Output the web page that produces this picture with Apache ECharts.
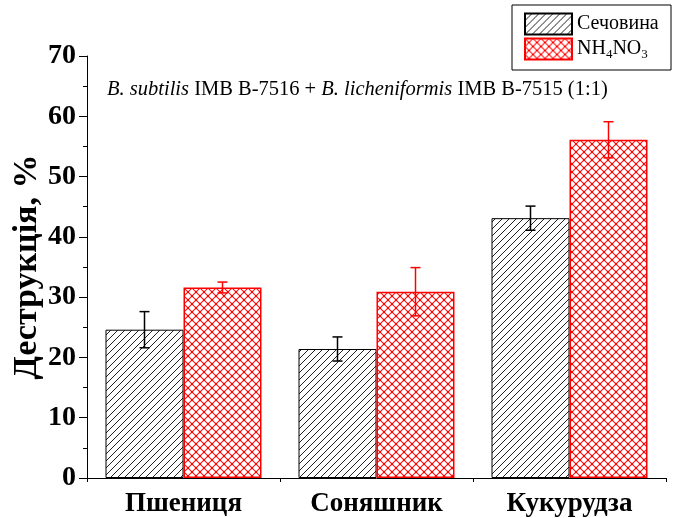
<!DOCTYPE html>
<html>
<head>
<meta charset="utf-8">
<script src="https://cdn.jsdelivr.net/npm/echarts@6/dist/echarts.min.js"></script>
<style>html,body{margin:0;padding:0;background:#fff;}#c{width:674px;height:518px;}</style>
</head>
<body>
<div id="c"></div>
<script>
// ---- data ----
var categories = ['Пшениця', 'Соняшник', 'Кукурудза'];
var seriesNames = ['Сечовина', 'NH4NO3'];
var ureaValues = [24.6, 21.4, 43.1];
var ureaErrors = [3.0, 2.0, 2.0];
var nitrateValues = [31.6, 30.9, 56.1];
var nitrateErrors = [0.9, 4.0, 3.0];
var yTicks = [0, 10, 20, 30, 40, 50, 60, 70];

// ---- styles ----
var FONT = 'Liberation Serif';
var BAR_W = 78;

function hatchPattern() {
  var c = document.createElement('canvas');
  c.width = 7; c.height = 7;
  var g = c.getContext('2d');
  g.fillStyle = '#fff'; g.fillRect(0, 0, 7, 7);
  g.strokeStyle = '#222'; g.lineWidth = 1;
  g.beginPath();
  g.moveTo(-1, 8); g.lineTo(8, -1);
  g.moveTo(-1, 1); g.lineTo(1, -1);
  g.moveTo(6, 8); g.lineTo(8, 6);
  g.stroke();
  return c;
}
function crossPattern() {
  var c = document.createElement('canvas');
  c.width = 8; c.height = 8;
  var g = c.getContext('2d');
  g.fillStyle = '#fff'; g.fillRect(0, 0, 8, 8);
  g.strokeStyle = '#ff1010'; g.lineWidth = 1.1;
  g.beginPath();
  g.moveTo(0, 0); g.lineTo(8, 8);
  g.moveTo(0, 8); g.lineTo(8, 0);
  g.stroke();
  g.fillStyle = '#ff0000';
  g.fillRect(3, 3, 2, 2);
  g.fillRect(0, 0, 1, 1); g.fillRect(7, 0, 1, 1); g.fillRect(0, 7, 1, 1); g.fillRect(7, 7, 1, 1);
  return c;
}

function errData(vals, errs) {
  return vals.map(function (v, i) { return [i, v - errs[i], v + errs[i]]; });
}
function errSeries(vals, errs, color, offset) {
  return {
    type: 'custom',
    xAxisIndex: 0,
    data: errData(vals, errs),
    encode: { x: 0, y: [1, 2] },
    z: 5,
    silent: true,
    renderItem: function (params, api) {
      var lo = api.coord([api.value(0), api.value(1)]);
      var hi = api.coord([api.value(0), api.value(2)]);
      var x = lo[0] + offset;
      var cap = 5;
      var st = { stroke: color, lineWidth: 1.5 };
      return {
        type: 'group',
        children: [
          { type: 'line', shape: { x1: x, y1: lo[1], x2: x, y2: hi[1] }, style: st },
          { type: 'line', shape: { x1: x - cap, y1: hi[1], x2: x + cap, y2: hi[1] }, style: st },
          { type: 'line', shape: { x1: x - cap, y1: lo[1], x2: x + cap, y2: lo[1] }, style: st }
        ]
      };
    }
  };
}

var chart = echarts.init(document.getElementById('c'), null, { renderer: 'canvas' });
var option = {
  backgroundColor: '#fff',
  animation: false,
  textStyle: { fontFamily: FONT, color: '#000' },
  title: {
    left: 102, top: 74,
    text: '{i|B. subtilis} IMB B-7516 + {i|B. licheniformis} IMB B-7515 (1:1)',
    textStyle: {
      fontFamily: FONT, fontSize: 20.5, fontWeight: 'normal', color: '#000',
      rich: { i: { fontFamily: FONT, fontSize: 20.5, fontStyle: 'italic', color: '#000' } }
    }
  },
  legend: {
    orient: 'vertical',
    left: 519, top: 7.5,
    itemWidth: 47, itemHeight: 21, itemGap: 2,
    icon: 'rect',
    data: seriesNames,
    textStyle: {
      fontFamily: FONT, fontSize: 20, color: '#000',
      rich: {
        a: { fontFamily: FONT, fontSize: 20, color: '#000' },
        s: { fontFamily: FONT, fontSize: 13, color: '#000', padding: [12, 0, 0, 0] }
      }
    },
    formatter: function (n) {
      if (n === 'NH4NO3') return '{a|NH}{s|4}{a|NO}{s|3}';
      return n;
    }
  },
  graphic: [
    { type: 'rect', shape: { x: 512, y: 5, width: 159, height: 65 }, style: { fill: null, stroke: '#000', lineWidth: 1 }, z: 100 }
  ],
  grid: { left: 87, right: 8, top: 56, bottom: 40, containLabel: false, outerBoundsMode: 'none' },
  xAxis: [
    {
      type: 'category', data: categories,
      axisLine: { lineStyle: { color: '#000', width: 1 } },
      axisTick: { alignWithLabel: true, length: 8, lineStyle: { color: '#000' } },
      axisLabel: { color: '#000', fontFamily: FONT, fontWeight: 'bold', fontSize: 27, margin: 13 },
      splitLine: { show: false }
    },
    {
      type: 'category', data: categories, position: 'bottom',
      axisLine: { show: false },
      axisTick: { show: true, length: 4, lineStyle: { color: '#000' } },
      axisLabel: { show: false },
      splitLine: { show: false }
    }
  ],
  yAxis: {
    type: 'value', min: yTicks[0], max: yTicks[yTicks.length - 1], interval: 10,
    name: 'Деструкція, %', nameLocation: 'middle', nameGap: 43, nameRotate: 90, nameMoveOverlap: false,
    nameTextStyle: { fontFamily: FONT, fontWeight: 'bold', fontSize: 34, color: '#000' },
    axisLine: { show: true, lineStyle: { color: '#000', width: 1 } },
    axisTick: { show: true, length: 8, lineStyle: { color: '#000' } },
    minorTick: { show: true, splitNumber: 2, length: 4, lineStyle: { color: '#000' } },
    axisLabel: { color: '#000', fontFamily: FONT, fontWeight: 'bold', fontSize: 28, margin: 11 },
    splitLine: { show: false }
  },
  series: [
    {
      name: seriesNames[0], type: 'bar', data: ureaValues, barWidth: BAR_W, barGap: '0%',
      itemStyle: { color: { image: hatchPattern(), repeat: 'repeat' }, borderColor: '#000', borderWidth: 1 }
    },
    {
      name: seriesNames[1], type: 'bar', data: nitrateValues, barWidth: BAR_W, barGap: '0%',
      itemStyle: { color: { image: crossPattern(), repeat: 'repeat' }, borderColor: '#ff0000', borderWidth: 1.5 }
    },
    errSeries(ureaValues, ureaErrors, '#000', -BAR_W / 2),
    errSeries(nitrateValues, nitrateErrors, '#ff0000', BAR_W / 2)
  ]
};
chart.setOption(option);
</script>
</body>
</html>
